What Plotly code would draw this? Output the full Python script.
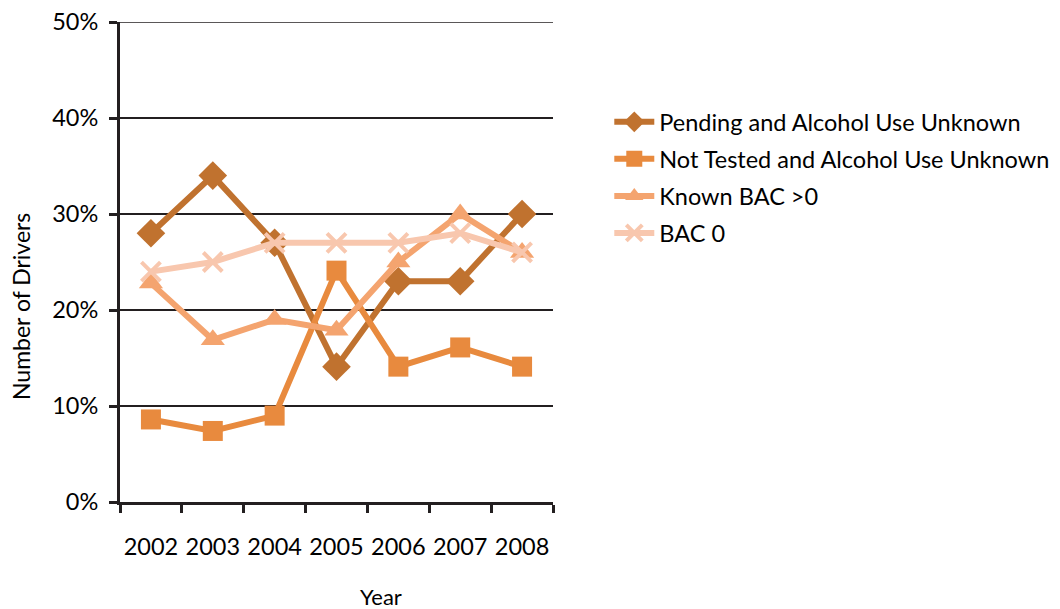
import plotly.graph_objects as go

years = ["2002", "2003", "2004", "2005", "2006", "2007", "2008"]
pending = [28.0, 34.0, 27.0, 14.1, 23.0, 23.0, 30.0]
not_tested = [8.6, 7.4, 9.0, 24.1, 14.1, 16.1, 14.1]
known_bac = [22.8, 16.9, 19.0, 17.9, 25.0, 30.0, 26.0]
bac0 = [24.0, 25.0, 27.0, 27.0, 27.0, 28.0, 26.0]

series = [
    ("Pending and Alcohol Use Unknown", pending, "#C0722F", "diamond", 22),
    ("Not Tested and Alcohol Use Unknown", not_tested, "#E88A3E", "square", 20),
    ("Known BAC >0", known_bac, "#F4A46F", "triangle-up", 21),
    ("BAC 0", bac0, "#F8C7AE", "x-thin", 19),
]

FONT = "Lato"
fig = go.Figure()
for i, (name, vals, color, sym, size) in enumerate(series):
    marker = dict(symbol=sym, size=size, color=color)
    if sym == "x-thin":
        marker["line"] = dict(color=color, width=4)
    fig.add_trace(go.Scatter(
        x=years, y=[v / 100 for v in vals], name=name, mode="lines+markers",
        line=dict(color=color, width=6), marker=marker,
        legendgroup=f"g{i}",
    ))

# page body has an 8px default margin; compensate in the plot margins
fig.update_layout(
    width=1060, height=609,
    margin=dict(l=112, r=515, t=14, b=115),
    paper_bgcolor="white", plot_bgcolor="white",
    font=dict(family=FONT, size=23, color="#000000"),
    showlegend=True,
    legend=dict(x=1.13, y=1.0 - (100 - 22) / 480, xanchor="left", yanchor="top",
                font=dict(size=23.5), tracegroupgap=3.5, itemwidth=40,
                bgcolor="rgba(0,0,0,0)"),
    hovermode=False,
)
fig.update_xaxes(
    type="category", range=[-0.5, 6.5], automargin=False, tickangle=0,
    showline=True, linecolor="#231F20", linewidth=3,
    ticks="outside", tickson="boundaries", ticklen=8, tickwidth=3, tickcolor="#231F20",
    showgrid=False, ticklabelstandoff=22,
    tickfont=dict(size=23.5),
)
fig.update_yaxes(
    range=[0, 0.5], tickvals=[0, 0.1, 0.2, 0.3, 0.4, 0.5], tickformat=".0%",
    automargin=False, ticklabeloverflow="allow",
    showline=True, linecolor="#231F20", linewidth=3,
    ticks="outside", ticklen=8, tickwidth=3, tickcolor="#231F20",
    showgrid=True, gridcolor="#231F20", gridwidth=1.5, zeroline=False,
    ticklabelstandoff=6, tickfont=dict(size=23.5),
)
# top gridline (50%) which plotly omits at the plot edge
fig.add_shape(type="line", xref="paper", yref="y", x0=0, x1=1, y0=0.5, y1=0.5,
              line=dict(color="#231F20", width=1.5), layer="below")
fig.add_annotation(
    text="Number of Drivers", textangle=-90, xref="paper", yref="paper",
    x=(21 - 120) / 433, y=(502 - 307) / 480, xanchor="center", yanchor="middle",
    showarrow=False, font=dict(size=23), borderpad=0,
)
fig.add_annotation(
    text="Year", xref="paper", yref="paper",
    x=(381 - 120) / 433, y=(502 - 596) / 480, xanchor="center", yanchor="middle",
    showarrow=False, font=dict(size=22), borderpad=0,
)
fig.write_html("out.html", config={"displayModeBar": False})
